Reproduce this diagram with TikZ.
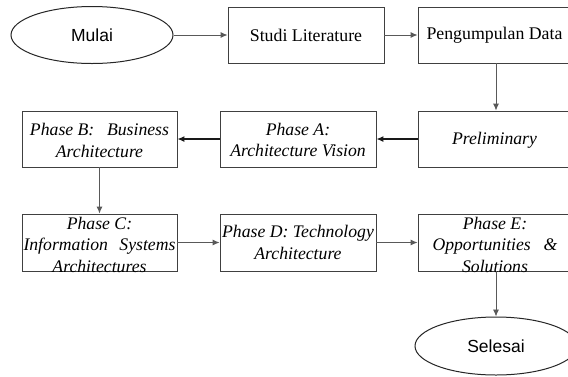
\documentclass[tikz,border=0pt]{standalone}
\usepackage{fontspec}
\setmainfont{Liberation Serif}
\newfontfamily\termfont{Liberation Sans}
\usetikzlibrary{arrows.meta,shapes.geometric}

\tikzset{
  stepbox/.style={draw=black!75, line width=0.9pt, minimum width=156pt,
    minimum height=56pt, inner sep=0pt},
  terminal/.style={ellipse, draw=black!85, line width=1pt, minimum width=162pt,
    minimum height=57pt, inner sep=0pt, font=\termfont\fontsize{17.5}{20}\selectfont},
  plain/.style={font=\fontsize{17.8}{21.5}\selectfont, inner sep=0pt},
  phase/.style={font=\itshape\fontsize{17.7}{21.5}\selectfont, inner sep=0pt, align=center},
  flow/.style={draw=black!65, line width=0.9pt, -{Latex[length=7pt,width=6pt]}},
  flowdark/.style={draw=black!90, line width=1.2pt, -{Latex[length=7pt,width=6pt]}}
}

\begin{document}
\begin{tikzpicture}[x=1pt, y=-1pt]
  \clip (0,0) rectangle (568,376);
  \fill[white] (0,0) rectangle (568,376);

  % top row
  \node[terminal] (mulai) at (92,35) {Mulai};
  \node[stepbox, plain] (studi) at (306,35) {Studi Literature};
  \node[stepbox, plain] (data) at (496,35) {Pengumpulan Data\hspace*{3pt}};

  % middle row
  \node[stepbox] (prelim) at (496,139) {};
  \node[phase] (prelimT) at ([yshift=-1pt]prelim.center) {Preliminary\hspace*{3pt}};
  \node[stepbox] (pa) at (298,139) {};
  \node[phase] (paT) at ([yshift=-1pt]pa.center) {Phase A:\\Architecture Vision};
  \node[stepbox, minimum width=155pt] (pb) at (99.5,139) {};
  \node[phase] (pbT) at ([yshift=-1.5pt]pb.center) {\hbox to 139pt{Phase B:\hfill Business}\\Architecture};

  % bottom row
  \node[stepbox, minimum width=155pt, minimum height=57pt] (pc) at (99.5,242.5) {};
  \node[phase] (pcT) at ([yshift=-2pt]pc.center)
    {Phase C:\\\hbox to 152pt{Information\hfill Systems}\\Architectures};
  \node[stepbox, minimum height=57pt] (pd) at (298,242.5) {};
  \node[phase] (pdT) at (pd.center) {Phase D: Technology\\Architecture};
  \node[stepbox, minimum height=57pt] (pe) at (496,242.5) {};
  \node[phase] (peT) at ([xshift=-1pt,yshift=-2pt]pe.center)
    {Phase E:\\\hbox to 125pt{Opportunities\hfill \&}\\Solutions};

  \node[terminal, minimum height=58pt] (selesai) at (496,346) {Selesai};

  % connectors
  \draw[flow] (mulai.east) -- (studi.west);
  \draw[flow] (studi.east) -- (data.west);
  \draw[flow] (data.south) -- (prelim.north);
  \draw[flowdark] (prelim.west) -- (pa.east);
  \draw[flowdark] (pa.west) -- (pb.east);
  \draw[flow] (pb.south) -- (pc.north);
  \draw[flow] (pc.east) -- (pd.west);
  \draw[flow] (pd.east) -- (pe.west);
  \draw[flow] (pe.south) -- (selesai.north);
\end{tikzpicture}
\end{document}
